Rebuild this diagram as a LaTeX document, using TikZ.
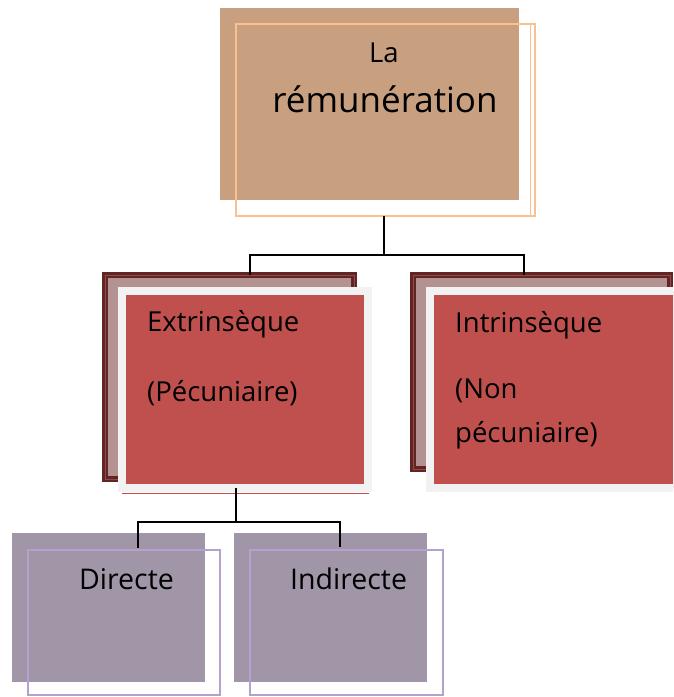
\documentclass[tikz,border=0pt]{standalone}
\usepackage{fontspec}
\setmainfont{Open Sans}
\definecolor{tanfill}{HTML}{C8A080}
\definecolor{peach}{HTML}{FAC090}
\definecolor{darkframe}{HTML}{632523}
\definecolor{darkline}{HTML}{8E4C4B}
\definecolor{rosy}{HTML}{B49292}
\definecolor{lightgray}{HTML}{F2F2F2}
\definecolor{redfill}{HTML}{C0504D}
\definecolor{mauve}{HTML}{A096A8}
\definecolor{lavender}{HTML}{B4A2CE}
\tikzset{
  box/.style={rectangle, inner sep=0pt, outer sep=0pt, anchor=north west},
  topback/.style={box, fill=tanfill},
  topedge/.style={box, draw=peach, line width=2pt},
  shadowframe/.style={box, fill=rosy, draw=darkframe, line width=6pt},
  frontbox/.style={box, fill=redfill, draw=lightgray, line width=8pt},
  lowback/.style={box, fill=mauve},
  lowedge/.style={box, draw=lavender, line width=2pt},
  link/.style={draw=black, line width=1.6pt},
  lbl/.style={inner sep=0pt, anchor=base west, font=\fontsize{27.5}{32}\selectfont},
}
\begin{document}
\begin{tikzpicture}[x=1pt,y=-1pt]
\clip (0,0) rectangle (673,697);
\fill[white] (0,0) rectangle (673,697);

% top box
\node[topback, minimum width=299pt, minimum height=192pt] (topb) at (220,8) {};
\node[topedge, minimum width=299pt, minimum height=192pt] (tope) at (236,24) {};
\draw[peach, line width=1.5pt] (tope.north east) ++(-4.5,0) coordinate (tr) -- (tr |- tope.south);
\node[inner sep=0pt, anchor=base, font=\fontsize{27.5}{32}\selectfont] (la) at (384,62) {La};
\node[inner sep=0pt, anchor=base, font=\fontsize{35}{40}\selectfont] (rem) at (385,112) {rémunération};

% shadow frames of the second level
\node[shadowframe, minimum width=249pt, minimum height=204pt] (extf) at (105,275) {};
\draw[darkline, line width=0.8pt] (extf.north west) rectangle (extf.south east);
\node[shadowframe, minimum width=257pt, minimum height=194pt] (intf) at (413,275) {};
\draw[darkline, line width=0.8pt] (intf.north west) rectangle (intf.south east);

% links from the top box
\coordinate (j1) at (384,255);
\coordinate (jl) at (250,255);
\coordinate (jr) at (524,255);
\draw[link] (tope.south -| j1) -- (j1);
\draw[link] (jl |- extf.north) -- (jl) -- (jr) -- (jr |- intf.north);

% front boxes of the second level
\node[frontbox, minimum width=246pt, minimum height=197pt] (ext) at (122,291) {};
\draw[redfill, line width=1pt] (122,493) -- (369,493);
\node[frontbox, minimum width=260pt, minimum height=197pt] (int) at (430,291) {};

\node[lbl] (t1) at (147,331) {Extrinsèque};
\node[lbl] (t2) at (147,401) {(Pécuniaire)};
\node[lbl] (t3) at (455,332) {Intrinsèque};
\node[lbl] (t4) at (455,398) {(Non};
\node[lbl] (t5) at (455,442) {pécuniaire)};

% third level
\node[lowback, minimum width=193pt, minimum height=149pt] (dirb) at (12,533) {};
\node[lowback, minimum width=193pt, minimum height=149pt] (indb) at (234,533) {};

\coordinate (k1) at (236,522);
\coordinate (kl) at (138,522);
\coordinate (kr) at (340,522);
\draw[link] (ext.south -| k1) -- (k1);
\draw[link] (kl |- dirb.north) ++(0,15) -- (kl) -- (kr) -- ++(0,25);

\node[lowedge, minimum width=192pt, minimum height=145pt] (dire) at (28,550) {};
\node[lowedge, minimum width=193pt, minimum height=145pt] (inde) at (250,550) {};

\node[lbl, font=\fontsize{28.5}{32}\selectfont] (t6) at (79,589) {Directe};
\node[lbl, font=\fontsize{28.5}{32}\selectfont] (t7) at (290,589) {Indirecte};
\end{tikzpicture}
\end{document}
